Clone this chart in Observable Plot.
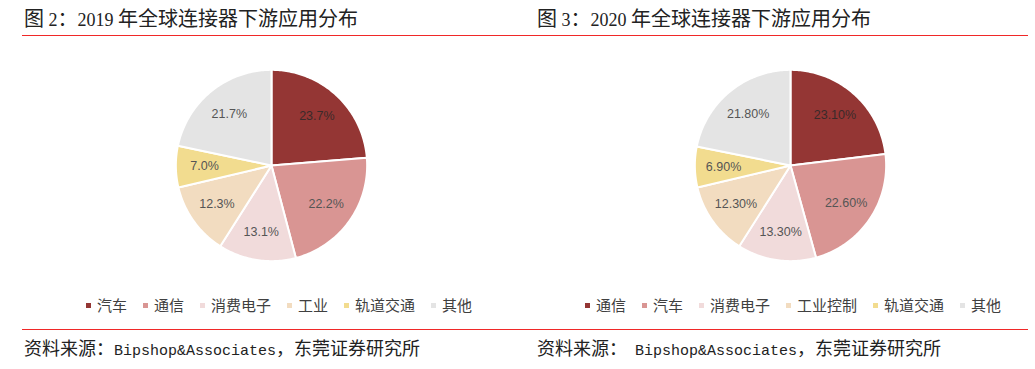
<!DOCTYPE html>
<html>
<head>
<meta charset="utf-8">
<script src="https://cdn.jsdelivr.net/npm/d3@7"></script>
<script src="https://cdn.jsdelivr.net/npm/@observablehq/plot@0.6"></script>
<style>
  html, body { margin: 0; padding: 0; background: #fff; }
  #root { position: relative; width: 1035px; height: 369px; overflow: hidden; background: #fff; }
  .title { position: absolute; top: 4px; font-family: "Noto Sans CJK SC", sans-serif; font-size: 20px; color: #222; white-space: nowrap; line-height: 28px; }
  .title .lat { font-family: "Liberation Serif", serif; font-size: 18px; }
  .rule { position: absolute; height: 1px; background: #f02828; }
  .source { position: absolute; top: 335px; font-family: "Noto Sans CJK SC", sans-serif; font-size: 18px; color: #222; white-space: pre; line-height: 24px; }
  .source .lat { font-family: "Liberation Mono", monospace; font-size: 15px; }
  .legend { position: absolute; top: 295px; display: flex; align-items: center; font-family: "Noto Sans CJK SC", sans-serif; font-size: 15px; color: #404040; white-space: nowrap; line-height: 20px; }
  .legend .item { display: flex; align-items: center; margin-right: 16px; }
  .legend .sw { width: 5px; height: 5px; margin-right: 6px; }
</style>
</head>
<body>
<div id="root"></div>
<script>
// ---- data ----
const categories2019 = ["汽车", "通信", "消费电子", "工业", "轨道交通", "其他"];
const values2019 = [23.7, 22.2, 13.1, 12.3, 7.0, 21.7];
const categories2020 = ["通信", "汽车", "消费电子", "工业控制", "轨道交通", "其他"];
const values2020 = [23.1, 22.6, 13.3, 12.3, 6.9, 21.8];
const sliceColors = ["#943634", "#d99593", "#f1dbdb", "#f2dcc0", "#f2dc8f", "#e4e4e4"];
const titleParts = [["图 ", "2", "：", "2019", " 年全球连接器下游应用分布"], ["图 ", "3", "：", "2020", " 年全球连接器下游应用分布"]];
const sourceParts = [["资料来源：", "Bipshop&Associates", "，东莞证券研究所"], ["资料来源：  ", "Bipshop&Associates", "，东莞证券研究所"]];

const root = document.getElementById("root");

function pieChart(categories, values, decimals) {
  const total = d3.sum(values);
  const pts = [];
  const labels = [];
  let acc = 0;
  categories.forEach((c, i) => {
    const a0 = acc / total * 2 * Math.PI;
    acc += values[i];
    const a1 = acc / total * 2 * Math.PI;
    pts.push({cat: c, x: 0, y: 0});
    const n = Math.max(2, Math.ceil((a1 - a0) / (Math.PI / 180)));
    for (let k = 0; k <= n; k++) {
      const a = a0 + (a1 - a0) * k / n;
      pts.push({cat: c, x: Math.sin(a), y: Math.cos(a)});
    }
    const am = (a0 + a1) / 2;
    const r = 0.7;
    labels.push({cat: c, x: r * Math.sin(am), y: r * Math.cos(am), text: values[i].toFixed(decimals) + "%", dark: i === 0});
  });
  return Plot.plot({
    width: 220, height: 220,
    margin: 0,
    x: {domain: [-1.15, 1.15], axis: null},
    y: {domain: [-1.15, 1.15], axis: null},
    color: {domain: categories, range: sliceColors},
    marks: [
      Plot.line(pts, {x: "x", y: "y", z: "cat", fill: "cat", stroke: "white", strokeWidth: 2, curve: "linear-closed"}),
      Plot.text(labels, {x: "x", y: "y", text: "text", fill: d => d.dark ? "#3a2a2a" : "#555555", fontSize: 12.5, fontFamily: "Liberation Sans, Arial, sans-serif"})
    ]
  });
}

function legend(categories, left) {
  const div = document.createElement("div");
  div.className = "legend";
  div.style.left = left + "px";
  categories.forEach((c, i) => {
    const it = document.createElement("span");
    it.className = "item";
    const sw = document.createElement("span");
    sw.className = "sw";
    sw.style.background = sliceColors[i];
    it.appendChild(sw);
    it.appendChild(document.createTextNode(c));
    div.appendChild(it);
  });
  return div;
}

function textBlock(parts, cls, left, latIdx) {
  const d = document.createElement("div");
  d.className = cls;
  d.style.left = left + "px";
  parts.forEach((p, j) => {
    const s = document.createElement("span");
    if (latIdx.includes(j)) s.className = "lat";
    s.textContent = p;
    d.appendChild(s);
  });
  root.appendChild(d);
}

function rule(top) {
  const r = document.createElement("div");
  r.className = "rule";
  r.style.left = "22px";
  r.style.width = "1006px";
  r.style.top = top + "px";
  root.appendChild(r);
}

function placeSvg(svg, left, top) {
  svg.style.position = "absolute";
  svg.style.left = left + "px";
  svg.style.top = top + "px";
  root.appendChild(svg);
}

// titles
textBlock(titleParts[0], "title", 24, [1, 3]);
textBlock(titleParts[1], "title", 537, [1, 3]);
// rules
rule(35);
rule(329);

// pies
placeSvg(pieChart(categories2019, values2019, 1), 161, 55);
placeSvg(pieChart(categories2020, values2020, 2), 680, 55);

// legends
root.appendChild(legend(categories2019, 86));
root.appendChild(legend(categories2020, 585));

// sources
textBlock(sourceParts[0], "source", 24, [1]);
textBlock(sourceParts[1], "source", 537, [1]);
</script>
</body>
</html>
